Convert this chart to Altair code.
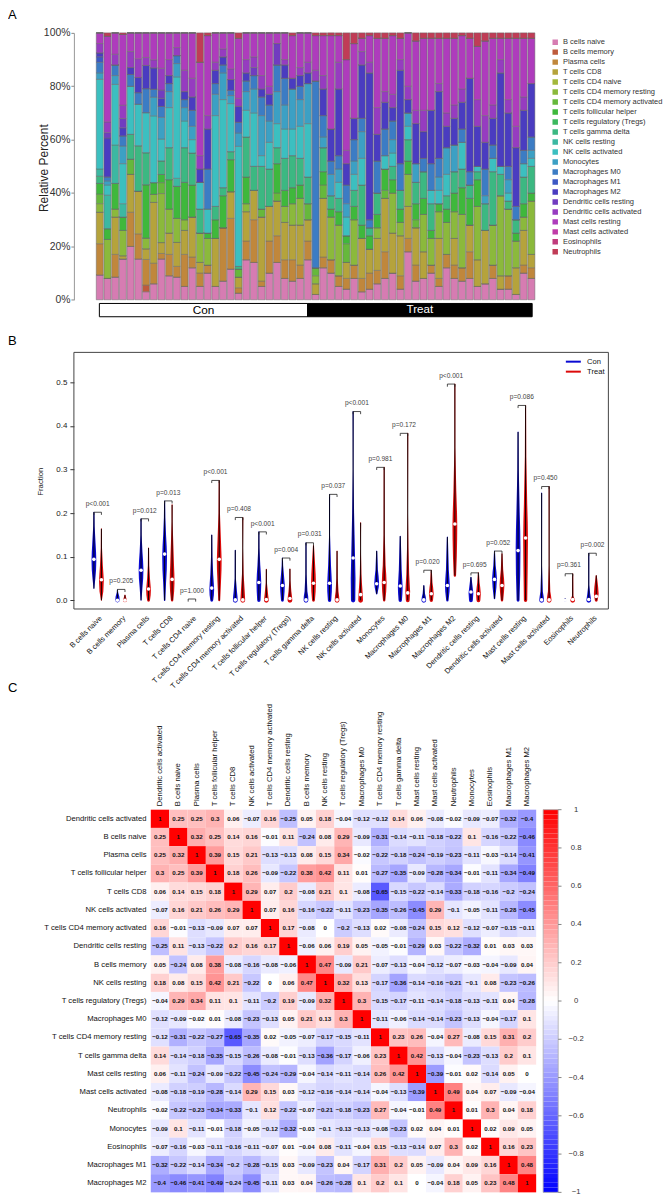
import json
import altair as alt
import numpy as np
import pandas as pd

FONT = "Liberation Sans"

# ---------------- shared names ----------------
CELL_TYPES = [
    "B cells naive", "B cells memory", "Plasma cells", "T cells CD8", "T cells CD4 naive",
    "T cells CD4 memory resting", "T cells CD4 memory activated", "T cells follicular helper",
    "T cells regulatory (Tregs)", "T cells gamma delta", "NK cells resting", "NK cells activated",
    "Monocytes", "Macrophages M0", "Macrophages M1", "Macrophages M2", "Dendritic cells resting",
    "Dendritic cells activated", "Mast cells resting", "Mast cells activated", "Eosinophils", "Neutrophils",
]
CELL_COLORS = [
    "#D67CB2", "#BE5B3C", "#C0873C", "#B5A33C", "#A3B83C", "#8BB93C", "#66B83C", "#3FB83C",
    "#3CB85E", "#3CB882", "#3CB8A2", "#3CBFC0", "#3CA0C4", "#3C7CC4", "#3C58C4", "#4A3CC0",
    "#713CC0", "#963CC0", "#AE3CBC", "#C03CA8", "#C03C7C", "#C03C56",
]

# ---------------- panel A: relative percent per sample ----------------
CON_SAMPLES = [
    [9.3, 0, 11.7, 11.8, 0, 3.2, 3.6, 4, 0, 2.7, 2.7, 33.6, 2.4, 4, 2, 1.5, 0, 3.5, 4, 0, 0, 0],
    [8, 0, 0, 0, 0, 14.5, 0, 4, 0, 0, 12.5, 3.8, 1.5, 1.5, 0, 14.5, 2, 4, 32, 0, 0, 1.2],
    [8.5, 0, 8.5, 14, 0, 3, 0, 9.6, 0, 0, 14.4, 22.7, 3.3, 4, 0, 0, 0, 4, 8, 0, 0, 0],
    [15.3, 0, 0, 1.2, 0, 9.5, 0, 5, 0, 0, 5, 15, 6.6, 3.8, 0, 3, 3.5, 5, 26.5, 0, 0, 0.6],
    [20, 0, 12.8, 14.2, 0, 0, 5.7, 0, 0, 9.3, 0, 18, 0, 4.4, 0, 2.6, 0, 6, 7, 0, 0, 0],
    [15.3, 0, 9.4, 16, 0, 0, 0, 0, 0, 17, 0, 15.6, 0, 4.3, 0, 5.7, 0, 7, 9.7, 0, 0, 0],
    [3, 2.5, 9.6, 4, 0, 4, 0, 20, 0, 12, 0, 15, 0, 9, 0, 8.7, 0, 3, 9.2, 0, 0, 0],
    [6, 0, 7.7, 22.8, 0, 3, 0, 4.4, 0, 0, 0, 25, 7, 3, 0, 8, 0, 3, 10.1, 0, 0, 0],
    [15, 0, 2, 4, 0, 18, 4, 3, 0, 5, 0, 8, 8, 4, 0, 3, 3, 8, 13, 0, 0, 0],
    [9, 0, 8, 8, 0, 9, 0, 11, 0, 12, 0, 15, 6, 3, 0, 3, 0, 6, 10, 0, 0, 0],
    [8.5, 0, 4, 9, 0, 9, 0, 12, 0, 0, 3, 38, 5, 3, 0, 0, 0, 3, 5.5, 0, 0, 0],
    [5, 0, 12, 9, 0, 4, 0, 14, 0, 13, 0, 10, 5, 3, 0, 3, 0, 8, 14, 0, 0, 0],
    [12, 0, 4, 15, 0, 0, 0, 12, 0, 12, 0, 5, 5, 6, 0, 5, 0, 7, 17, 0, 0, 0],
    [5, 0, 5, 4, 0, 11, 0, 0, 0, 9, 0, 10, 0, 0, 0, 5, 0, 5, 35, 0, 0, 11],
    [10, 0, 3, 0, 0, 10, 0, 2, 0, 0, 0, 9, 0, 15, 0, 15, 0, 5, 30, 0, 0, 1],
    [5, 0, 0, 18, 0, 0, 0, 7, 0, 5, 0, 34, 8, 4, 0, 5, 0, 3, 11, 0, 0, 0],
    [7, 0, 20, 0, 0, 0, 0, 12, 0, 3, 0, 33, 10, 3, 0, 3, 0, 3, 6, 0, 0, 0],
    [11.5, 0, 19, 10, 0, 0, 0, 12, 0, 3, 0, 18, 3, 2, 0, 4, 0, 4, 13.5, 0, 0, 0],
    [2.5, 0, 2, 4, 0, 0, 3, 0, 0, 1, 0, 45, 5, 4, 0, 6, 0, 3, 22.5, 0, 0, 2],
    [15, 0, 7, 11, 0, 3, 0, 10, 0, 15, 0, 10, 7, 4, 0, 3, 0, 5, 10, 0, 0, 0],
    [14, 0, 16, 11, 0, 0, 0, 0, 0, 9, 0, 20, 9, 5, 0, 0, 3, 4, 9, 0, 0, 0],
    [5, 0, 2, 24, 0, 0, 3, 0, 0, 16, 0, 4, 15, 7, 0, 3, 0, 5, 16, 0, 0, 0],
    [10, 0, 12, 13, 0, 0, 0, 0, 0, 14, 0, 10, 8, 6, 0, 4, 0, 3, 20, 0, 0, 0],
    [14, 0, 10, 13, 0, 0, 3, 11, 0, 6, 0, 9, 12, 10, 0, 0, 8, 0, 4, 0, 0, 0],
    [8, 0, 7, 14, 0, 6, 0, 6, 0, 12, 0, 11, 9, 10, 0, 5, 0, 2, 10, 0, 0, 0],
    [7, 0, 8, 13, 0, 8, 0, 6, 0, 12, 0, 10, 15, 0, 0, 4, 0, 0, 16, 0, 0, 1],
    [8, 0, 5, 15, 0, 10, 0, 5, 0, 10, 0, 12, 10, 5, 0, 4, 0, 3, 13, 0, 0, 0],
]
TREAT_SAMPLES = [
    [15, 0, 7, 8, 0, 0, 6, 0, 0, 10, 0, 20, 15, 0, 0, 4, 0, 4, 11, 0, 0, 0],
    [2, 0, 0, 4, 0, 3, 3, 0, 0, 0, 0, 0, 0, 70, 0, 0, 0, 4, 13, 0, 0, 1],
    [12, 0, 4, 22, 0, 0, 5, 5, 0, 9, 0, 0, 4, 8, 0, 10, 0, 5, 15, 0, 0, 1],
    [10, 0, 5, 0, 0, 16, 0, 3, 0, 5, 0, 0, 8, 5, 0, 12, 0, 0, 35, 0, 0, 1],
    [5, 0, 4, 0, 0, 19, 0, 5, 0, 5, 0, 6, 5, 5, 0, 25, 0, 10, 10, 0, 0, 1],
    [4, 0, 4, 6, 0, 0, 7, 3, 0, 0, 0, 7, 5, 7, 0, 8, 0, 5, 34, 0, 0, 10],
    [8, 0, 5, 0, 0, 17, 0, 5, 0, 6, 0, 6, 5, 8, 0, 8, 0, 0, 28, 0, 0, 4],
    [3, 0, 5, 15, 0, 0, 0, 5, 0, 15, 0, 10, 10, 5, 0, 20, 0, 5, 5, 0, 0, 2],
    [4, 0, 6, 9, 0, 0, 0, 5, 0, 3, 0, 0, 0, 3, 0, 55, 0, 4, 10, 0, 0, 1],
    [6, 0, 5, 12, 0, 4, 0, 5, 0, 8, 0, 0, 0, 12, 0, 10, 0, 10, 26, 0, 0, 2],
    [8, 0, 10, 20, 0, 0, 3, 8, 0, 0, 0, 5, 0, 10, 0, 10, 0, 4, 20, 0, 0, 2],
    [10, 0, 0, 15, 0, 15, 0, 5, 0, 5, 0, 5, 5, 7, 0, 5, 0, 5, 22, 0, 0, 1],
    [4, 0, 5, 15, 0, 5, 0, 5, 0, 7, 0, 0, 0, 10, 0, 35, 0, 4, 8, 0, 0, 2],
    [18, 0, 5, 12, 0, 12, 0, 5, 0, 8, 0, 5, 5, 0, 0, 5, 0, 5, 20, 0, 0, 0],
    [7, 0, 6, 14, 0, 0, 3, 6, 0, 8, 0, 0, 7, 0, 0, 15, 0, 5, 26, 0, 0, 3],
    [8, 0, 0, 10, 0, 14, 0, 6, 0, 10, 0, 0, 0, 5, 0, 10, 0, 8, 27, 0, 0, 2],
    [10, 0, 3, 0, 0, 10, 0, 3, 0, 10, 0, 5, 0, 10, 0, 20, 0, 0, 27, 0, 0, 2],
    [5, 0, 3, 15, 0, 10, 0, 3, 0, 0, 0, 5, 5, 7, 0, 25, 0, 3, 17, 0, 0, 2],
    [12, 0, 5, 0, 0, 12, 0, 5, 0, 5, 0, 8, 10, 0, 0, 8, 0, 5, 28, 0, 0, 2],
    [8, 0, 5, 10, 0, 10, 0, 7, 0, 8, 0, 0, 10, 0, 0, 10, 0, 5, 25, 0, 0, 2],
    [7, 0, 5, 0, 0, 20, 0, 10, 0, 7, 0, 10, 0, 5, 0, 10, 0, 5, 20, 0, 0, 1],
    [8, 0, 10, 10, 0, 0, 0, 10, 0, 5, 0, 0, 0, 5, 0, 35, 0, 0, 15, 0, 0, 2],
    [5, 0, 0, 10, 0, 20, 0, 10, 0, 3, 0, 2, 0, 0, 0, 15, 0, 10, 20, 0, 0, 5],
    [6, 0, 0, 20, 0, 0, 0, 0, 0, 10, 0, 0, 3, 10, 0, 10, 0, 10, 28, 0, 0, 3],
    [8, 0, 5, 0, 0, 15, 0, 0, 0, 20, 0, 5, 0, 5, 0, 10, 0, 5, 25, 0, 0, 2],
    [4, 0, 0, 5, 0, 30, 0, 0, 0, 8, 0, 3, 0, 0, 0, 35, 0, 5, 8, 0, 0, 2],
    [4, 0, 5, 0, 0, 25, 0, 0, 0, 3, 0, 3, 5, 5, 0, 20, 0, 5, 23, 0, 0, 2],
    [2, 0, 0, 10, 0, 10, 0, 3, 0, 5, 0, 0, 0, 5, 0, 22, 0, 8, 33, 0, 0, 2],
    [10, 0, 3, 13, 0, 5, 0, 5, 0, 10, 0, 5, 0, 5, 0, 15, 0, 5, 22, 0, 0, 2],
    [8, 0, 4, 5, 0, 20, 0, 3, 0, 10, 0, 3, 3, 5, 0, 20, 0, 0, 17, 0, 0, 2],
]
GROUPS = ["Con", "Treat"]

# ---------------- panel B: violin summaries ----------------
P_TEXT = ["p<0.001", "p=0.205", "p=0.012", "p=0.013", "p=1.000", "p<0.001", "p=0.408", "p<0.001",
          "p=0.004", "p=0.031", "p=0.037", "p<0.001", "p=0.981", "p=0.172", "p=0.020", "p<0.001",
          "p=0.695", "p=0.052", "p=0.086", "p=0.450", "p=0.361", "p=0.002"]
# (fraction, relative half width) outline knots of each violin
CON_PROFILES = [
    [(0.027, 0.15), (0.05, 0.6), (0.07, 0.9), (0.09, 1.0), (0.11, 0.9), (0.13, 0.7), (0.17, 0.3), (0.202, 0)],
    [(0.0, 0.9), (0.008, 0.8), (0.018, 0.3), (0.024, 0)],
    [(0.0, 0.2), (0.03, 0.6), (0.05, 0.9), (0.07, 1.0), (0.09, 0.85), (0.11, 0.6), (0.15, 0.25), (0.187, 0)],
    [(0.0, 0.3), (0.04, 0.6), (0.07, 0.9), (0.1, 1.0), (0.125, 0.85), (0.15, 0.6), (0.19, 0.3), (0.228, 0)],
    [],
    [(0.0, 0.6), (0.012, 0.9), (0.025, 1.0), (0.04, 0.85), (0.06, 0.6), (0.1, 0.3), (0.15, 0)],
    [(0.0, 1.0), (0.01, 0.9), (0.02, 0.7), (0.05, 0.25), (0.115, 0)],
    [(0.0, 0.7), (0.02, 0.9), (0.04, 1.0), (0.06, 0.85), (0.08, 0.6), (0.12, 0.25), (0.157, 0)],
    [(0.0, 0.6), (0.02, 0.9), (0.035, 1.0), (0.06, 0.6), (0.08, 0.3), (0.097, 0)],
    [(0.0, 1.0), (0.01, 0.9), (0.02, 0.6), (0.06, 0.25), (0.132, 0)],
    [(0.0, 0.7), (0.02, 0.95), (0.035, 1.0), (0.06, 0.8), (0.08, 0.6), (0.15, 0.2), (0.243, 0)],
    [(0.0, 0.9), (0.05, 1.0), (0.1, 0.8), (0.15, 0.6), (0.2, 0.4), (0.3, 0.15), (0.433, 0)],
    [(0.015, 0.3), (0.03, 0.85), (0.04, 1.0), (0.055, 0.8), (0.07, 0.5), (0.113, 0)],
    [(0.0, 0.7), (0.015, 0.9), (0.03, 1.0), (0.05, 0.8), (0.07, 0.6), (0.147, 0)],
    [(0.0, 1.0), (0.008, 0.8), (0.015, 0.5), (0.034, 0)],
    [(0.0, 0.5), (0.02, 0.9), (0.035, 1.0), (0.05, 0.85), (0.07, 0.6), (0.145, 0)],
    [(0.0, 0.8), (0.017, 1.0), (0.035, 0.6), (0.053, 0)],
    [(0.004, 0.3), (0.03, 0.8), (0.05, 1.0), (0.065, 0.8), (0.08, 0.5), (0.113, 0)],
    [(0.0, 0.6), (0.06, 0.9), (0.12, 1.0), (0.16, 0.9), (0.2, 0.7), (0.3, 0.3), (0.386, 0)],
    [(0.0, 1.0), (0.01, 0.8), (0.02, 0.5), (0.08, 0.15), (0.246, 0)],
    [(0.0, 0.5), (0.002, 0.3), (0.004, 0)],
    [(0.0, 1.0), (0.015, 0.6), (0.035, 0.2), (0.108, 0)],
]
TREAT_PROFILES = [
    [(0.0, 0.2), (0.02, 0.8), (0.045, 1.0), (0.06, 0.85), (0.08, 0.6), (0.12, 0.25), (0.164, 0)],
    [(0.0, 0.8), (0.006, 0.5), (0.012, 0)],
    [(0.0, 0.6), (0.012, 0.9), (0.025, 1.0), (0.05, 0.6), (0.08, 0.3), (0.12, 0)],
    [(0.0, 0.5), (0.02, 0.85), (0.04, 1.0), (0.06, 0.95), (0.08, 0.8), (0.13, 0.5), (0.18, 0.2), (0.219, 0)],
    [],
    [(0.0, 0.4), (0.05, 0.8), (0.07, 0.95), (0.09, 1.0), (0.11, 0.9), (0.14, 0.7), (0.2, 0.3), (0.275, 0)],
    [(0.0, 1.0), (0.02, 0.8), (0.06, 0.35), (0.12, 0.1), (0.19, 0)],
    [(0.0, 1.0), (0.015, 0.7), (0.04, 0.25), (0.071, 0)],
    [(0.0, 1.0), (0.01, 0.85), (0.02, 0.6), (0.045, 0.25), (0.072, 0)],
    [(0.0, 0.6), (0.02, 0.9), (0.04, 1.0), (0.06, 0.9), (0.08, 0.7), (0.126, 0)],
    [(0.0, 1.0), (0.01, 0.85), (0.02, 0.6), (0.05, 0.3), (0.113, 0)],
    [(0.0, 1.0), (0.02, 0.8), (0.04, 0.55), (0.06, 0.35), (0.12, 0.1), (0.178, 0)],
    [(0.0, 0.5), (0.02, 0.85), (0.04, 1.0), (0.06, 0.85), (0.08, 0.6), (0.15, 0.25), (0.305, 0)],
    [(0.0, 0.8), (0.02, 1.0), (0.04, 0.8), (0.06, 0.6), (0.12, 0.3), (0.2, 0.1), (0.383, 0)],
    [(0.0, 0.7), (0.015, 1.0), (0.03, 0.75), (0.04, 0.5), (0.069, 0)],
    [(0.057, 0.5), (0.1, 0.8), (0.14, 0.95), (0.17, 1.0), (0.2, 0.9), (0.25, 0.6), (0.35, 0.2), (0.496, 0)],
    [(0.0, 0.8), (0.015, 1.0), (0.03, 0.75), (0.04, 0.5), (0.063, 0)],
    [(0.0, 0.5), (0.02, 0.85), (0.035, 1.0), (0.05, 0.85), (0.07, 0.5), (0.107, 0)],
    [(0.0, 0.7), (0.08, 0.9), (0.14, 1.0), (0.18, 0.9), (0.22, 0.7), (0.33, 0.3), (0.447, 0)],
    [(0.0, 1.0), (0.01, 0.8), (0.02, 0.5), (0.08, 0.15), (0.261, 0)],
    [(0.0, 1.0), (0.01, 0.3), (0.061, 0)],
    [(0.0, 0.6), (0.015, 1.0), (0.03, 0.8), (0.04, 0.6), (0.057, 0)],
]
CON_MEDIANS = [0.094, 0.0, 0.069, 0.106, 0.0, 0.028, 0.001, 0.041, 0.034, 0.001, 0.039,
               0.097, 0.038, 0.033, 0.001, 0.034, 0.019, 0.048, 0.114, 0.001, 0.0, 0.002]
TREAT_MEDIANS = [0.047, 0.0, 0.026, 0.048, 0.0, 0.094, 0.001, 0.002, 0.004, 0.039, 0.001,
                 0.013, 0.041, 0.017, 0.015, 0.175, 0.015, 0.034, 0.143, 0.001, 0.002, 0.009]
BRACKET_Y = [0.202, 0.025, 0.187, 0.228, 0.003, 0.275, 0.19, 0.157, 0.097, 0.132, 0.243,
             0.433, 0.305, 0.383, 0.069, 0.496, 0.063, 0.113, 0.447, 0.261, 0.061, 0.108]
GROUP_COLORS = ["#0A0AD2", "#DC0A0A"]

# ---------------- panel C: correlation matrix ----------------
CORR_NAMES = [
    "Dendritic cells activated", "B cells naive", "Plasma cells", "T cells follicular helper",
    "T cells CD8", "NK cells activated", "T cells CD4 memory activated", "Dendritic cells resting",
    "B cells memory", "NK cells resting", "T cells regulatory (Tregs)", "Macrophages M0",
    "T cells CD4 memory resting", "T cells gamma delta", "Mast cells resting", "Mast cells activated",
    "Neutrophils", "Monocytes", "Eosinophils", "Macrophages M1", "Macrophages M2",
]
CORR = [
    [1, 0.25, 0.25, 0.3, 0.06, -0.07, 0.16, -0.25, 0.05, 0.18, -0.04, -0.12, -0.12, 0.14, 0.06, -0.08, -0.02, -0.09, -0.07, -0.32, -0.4],
    [0.25, 1, 0.32, 0.25, 0.14, 0.16, -0.01, 0.11, -0.24, 0.08, 0.29, -0.09, -0.31, -0.14, -0.11, -0.18, -0.22, 0.1, -0.16, -0.22, -0.46],
    [0.25, 0.32, 1, 0.39, 0.15, 0.21, -0.13, -0.13, 0.08, 0.15, 0.34, -0.02, -0.22, -0.18, -0.24, -0.19, -0.23, -0.11, -0.03, -0.14, -0.41],
    [0.3, 0.25, 0.39, 1, 0.18, 0.26, -0.09, -0.22, 0.38, 0.42, 0.11, 0.01, -0.27, -0.35, -0.09, -0.28, -0.34, -0.01, -0.11, -0.34, -0.49],
    [0.06, 0.14, 0.15, 0.18, 1, 0.29, 0.07, 0.2, -0.08, 0.21, 0.1, -0.08, -0.65, -0.15, -0.22, -0.14, -0.33, -0.18, -0.16, -0.2, -0.24],
    [-0.07, 0.16, 0.21, 0.26, 0.29, 1, 0.07, 0.16, -0.16, -0.22, -0.11, -0.23, -0.35, -0.26, -0.45, 0.29, -0.1, -0.05, -0.11, -0.28, -0.45],
    [0.16, -0.01, -0.13, -0.09, 0.07, 0.07, 1, 0.17, -0.08, 0, -0.2, -0.13, 0.02, -0.08, -0.24, 0.15, 0.12, -0.12, -0.07, -0.15, -0.11],
    [-0.25, 0.11, -0.13, -0.22, 0.2, 0.16, 0.17, 1, -0.06, 0.06, 0.19, 0.05, -0.05, -0.01, -0.29, 0.03, -0.22, -0.32, 0.01, 0.03, 0.03],
    [0.05, -0.24, 0.08, 0.38, -0.08, -0.16, -0.08, -0.06, 1, 0.47, -0.09, 0.21, -0.07, -0.13, -0.04, -0.12, -0.07, -0.03, -0.04, -0.09, 0.04],
    [0.18, 0.08, 0.15, 0.42, 0.21, -0.22, 0, 0.06, 0.47, 1, 0.32, 0.13, -0.17, -0.36, -0.14, -0.16, -0.21, -0.1, 0.08, -0.23, -0.26],
    [-0.04, 0.29, 0.34, 0.11, 0.1, -0.11, -0.2, 0.19, -0.09, 0.32, 1, 0.3, -0.15, -0.17, -0.11, -0.14, -0.18, -0.13, -0.11, 0.04, -0.28],
    [-0.12, -0.09, -0.02, 0.01, -0.08, -0.23, -0.13, 0.05, 0.21, 0.13, 0.3, 1, -0.11, -0.06, -0.14, -0.14, -0.23, -0.13, -0.04, -0.17, 0.1],
    [-0.12, -0.31, -0.22, -0.27, -0.65, -0.35, 0.02, -0.05, -0.07, -0.17, -0.15, -0.11, 1, 0.23, 0.26, -0.04, 0.27, -0.08, 0.15, 0.31, 0.2],
    [0.14, -0.14, -0.18, -0.35, -0.15, -0.26, -0.08, -0.01, -0.13, -0.36, -0.17, -0.06, 0.23, 1, 0.42, -0.13, -0.04, -0.23, -0.13, 0.2, 0.1],
    [0.06, -0.11, -0.24, -0.09, -0.22, -0.45, -0.24, -0.29, -0.04, -0.14, -0.11, -0.14, 0.26, 0.42, 1, -0.39, -0.01, 0.02, -0.14, 0.05, 0],
    [-0.08, -0.18, -0.19, -0.28, -0.14, 0.29, 0.15, 0.03, -0.12, -0.16, -0.14, -0.14, -0.04, -0.13, -0.39, 1, 0.49, 0.04, 0.07, -0.09, -0.04],
    [-0.02, -0.22, -0.23, -0.34, -0.33, -0.1, 0.12, -0.22, -0.07, -0.21, -0.18, -0.23, 0.27, -0.04, -0.01, 0.49, 1, 0.01, 0.3, 0.04, 0.18],
    [-0.09, 0.1, -0.11, -0.01, -0.18, -0.05, -0.12, -0.32, -0.03, -0.1, -0.13, -0.13, -0.08, -0.23, 0.02, 0.04, 0.01, 1, 0.02, 0.09, 0.05],
    [-0.07, -0.16, -0.03, -0.11, -0.16, -0.11, -0.07, 0.01, -0.04, 0.08, -0.11, -0.04, 0.15, -0.13, -0.14, 0.07, 0.3, 0.02, 1, 0.16, 0.23],
    [-0.32, -0.22, -0.14, -0.34, -0.2, -0.28, -0.15, 0.03, -0.09, -0.23, 0.04, -0.17, 0.31, 0.2, 0.05, -0.09, 0.04, 0.09, 0.16, 1, 0.48],
    [-0.4, -0.46, -0.41, -0.49, -0.24, -0.45, -0.11, 0.03, 0.04, -0.26, -0.28, 0.1, 0.2, 0.1, 0, -0.04, 0.18, 0.05, 0.23, 0.48, 1],
]
CBAR_TICKS = [1, 0.8, 0.6, 0.4, 0.2, 0, -0.2, -0.4, -0.6, -0.8, -1]


def one(**kw):
    return pd.DataFrame({k: [v] for k, v in kw.items()})


def spacer(x, y):
    return alt.Chart(one(a=0)).mark_rule(opacity=0, strokeWidth=0.1).encode(
        x=alt.value(x), x2=alt.value(x + 1), y=alt.value(y), y2=alt.value(y))


def label(txt, x, y, size=13, baseline="middle"):
    return alt.Chart(one(t=txt)).mark_text(
        fontSize=size, align="left", baseline=baseline, color="#000").encode(
        text="t:N", x=alt.value(x), y=alt.value(y))


# ======================= PANEL A =======================
A_W, A_H = 471, 267.3
A_STEP = 7.887
A_X0 = -(95.35 - 74) / A_STEP
A_X1 = A_X0 + A_W / A_STEP
xa = alt.Scale(domain=[A_X0, A_X1], nice=False, zero=False)

samples = CON_SAMPLES + TREAT_SAMPLES
n_con, n_all = len(CON_SAMPLES), len(samples)
rowsA = []
for k, vals in enumerate(samples):
    for ci, v in enumerate(vals):
        rowsA.append(dict(sample=k, ci=ci, cell=CELL_TYPES[ci], pct=v))
dfA = pd.DataFrame(rowsA)

barsA = alt.Chart(dfA).mark_bar(width=7.0, stroke="#6a6a6a", strokeWidth=0.5).encode(
    x=alt.X("sample:Q", scale=xa, axis=None),
    y=alt.Y("pct:Q", stack="normalize", scale=alt.Scale(domain=[0, 1], nice=False),
            axis=alt.Axis(values=[0, 0.2, 0.4, 0.6, 0.8, 1.0], format=".0%", labelFontSize=10.4,
                          labelColor="#333", tickSize=3, tickColor="#888", domainColor="#999",
                          grid=False, labelPadding=1, title="Relative Percent", titleFontSize=12,
                          titleFontWeight="normal", titleColor="#222", titleX=-30, titleY=135,
                          titleBaseline="middle")),
    color=alt.Color("cell:N", scale=alt.Scale(domain=CELL_TYPES, range=CELL_COLORS),
                    legend=alt.Legend(orient="none", legendX=478.3, legendY=4.3, title=None,
                                      symbolType="square", symbolSize=30, symbolStrokeWidth=0,
                                      labelFontSize=7.5, labelColor="#333", labelOffset=4,
                                      rowPadding=0, clipHeight=10, labelLimit=200)),
    order=alt.Order("ci:Q", sort="ascending"),
)

dfG = pd.DataFrame(dict(group=GROUPS, start=[-0.05, n_con - 0.03], end=[n_con - 0.03, n_all - 0.9],
                        mid=[(n_con - 0.08) / 2, (n_con + n_all - 0.93) / 2]))
boxCon = alt.Chart(dfG[dfG.group == "Con"]).mark_rect(fill="white", stroke="black", strokeWidth=1).encode(
    x=alt.X("start:Q", scale=xa), x2="end:Q", y=alt.value(A_H + 3.7), y2=alt.value(A_H + 17))
boxTreat = alt.Chart(dfG[dfG.group == "Treat"]).mark_rect(fill="black", stroke="black", strokeWidth=1).encode(
    x=alt.X("start:Q", scale=xa), x2="end:Q", y=alt.value(A_H + 3.7), y2=alt.value(A_H + 17))
txtCon = alt.Chart(dfG[dfG.group == "Con"]).mark_text(fontSize=11.8, color="black", baseline="middle").encode(
    x=alt.X("mid:Q", scale=xa), y=alt.value(A_H + 10.5), text="group:N")
txtTreat = alt.Chart(dfG[dfG.group == "Treat"]).mark_text(fontSize=11.6, color="white", baseline="middle").encode(
    x=alt.X("mid:Q", scale=xa), y=alt.value(A_H + 10.5), text="group:N")

chartA = alt.layer(
    barsA, boxCon, boxTreat, txtCon, txtTreat,
    label("A", -66, -23.7, baseline="top"),
    label("B", -66, 308.3),
    spacer(0, 318.3),
).properties(width=A_W, height=A_H)

# ======================= PANEL B =======================
B_W, B_H = 535.3, 257
B_STEP = 23.6
B_X0 = -23.8 / B_STEP
B_X1 = B_X0 + B_W / B_STEP
B_Y0, B_Y1 = -0.0199, 0.5687
xb = alt.Scale(domain=[B_X0, B_X1], nice=False, zero=False)
yb = alt.Scale(domain=[B_Y0, B_Y1], nice=False, zero=False)
HW_PX, OFF = 2.4, 0.159

vrows, wrows, mrows = [], [], []
for side, profs, meds, off in [("Con", CON_PROFILES, CON_MEDIANS, -OFF),
                               ("Treat", TREAT_PROFILES, TREAT_MEDIANS, OFF)]:
    for i, prof in enumerate(profs):
        for yv, w in prof:
            vrows.append(dict(vid=f"{side}{i}", side=side, y=yv, x=i + off, wpx=2 * w * HW_PX))
        if prof:
            wrows.append(dict(side=side, x=i + off, y=prof[0][0], yhi=prof[-1][0]))
            mrows.append(dict(side=side, x=i + off, y=meds[i]))
dfV, dfW, dfM = pd.DataFrame(vrows), pd.DataFrame(wrows), pd.DataFrame(mrows)

dfBr = pd.DataFrame(dict(xc=[i - OFF for i in range(22)], xt=[i + OFF for i in range(22)],
                         h=BRACKET_Y, hl=[h - 0.006 for h in BRACKET_Y],
                         ht=[h + 0.019 for h in BRACKET_Y], xm=list(range(22)), p=P_TEXT))

side_scale = alt.Scale(domain=GROUPS, range=GROUP_COLORS)
names_expr = json.dumps(CELL_TYPES) + "[datum.value]"

axisX = alt.Axis(values=list(range(22)), labelExpr=names_expr, labelAngle=-45,
                 labelFontSize=7.5, labelColor="#111", ticks=False, domain=False,
                 grid=False, labelPadding=5, title=None, labelLimit=300,
                 labelOverlap=False, labelBound=False)
axisY = alt.Axis(values=[0, 0.1, 0.2, 0.3, 0.4, 0.5], format=".1f", labelFontSize=8,
                 labelColor="#222", tickSize=4, tickColor="#333", domain=False, grid=False,
                 labelPadding=3, title="Fraction", titleFontSize=7.8, titleFontWeight="normal",
                 titleColor="#222", titleX=-33, titleY=129, titleBaseline="middle")


def bx(field):
    return alt.X(field, scale=xb, axis=axisX)


def by(field):
    return alt.Y(field, scale=yb, axis=axisY)


frameB = alt.Chart(one(a=0)).mark_rect(filled=False, stroke="#444", strokeWidth=1).encode(
    x=alt.value(0), x2=alt.value(B_W), y=alt.value(0), y2=alt.value(B_H))

violins = alt.Chart(dfV).mark_trail().encode(
    x=bx("x:Q"), y=by("y:Q"),
    size=alt.Size("wpx:Q", scale=None, legend=None),
    color=alt.Color("side:N", scale=side_scale, legend=None),
    detail="vid:N",
    order=alt.Order("y:Q"),
)
whisk = alt.Chart(dfW).mark_rule(color="black", strokeWidth=0.9).encode(
    x=bx("x:Q"), y=by("y:Q"), y2="yhi:Q")
meds = alt.Chart(dfM).mark_circle(color="white", size=13, opacity=1).encode(
    x=bx("x:Q"), y=by("y:Q"))
brH = alt.Chart(dfBr).mark_rule(color="#222", strokeWidth=0.8).encode(
    x=bx("xc:Q"), x2="xt:Q", y=by("h:Q"))
brL = alt.Chart(dfBr).mark_rule(color="#222", strokeWidth=0.8).encode(
    x=bx("xc:Q"), y=by("hl:Q"), y2="h:Q")
brR = alt.Chart(dfBr).mark_rule(color="#222", strokeWidth=0.8).encode(
    x=bx("xt:Q"), y=by("hl:Q"), y2="h:Q")
ptxt = alt.Chart(dfBr).mark_text(fontSize=6.6, color="#444", baseline="middle").encode(
    x=bx("xm:Q"), y=by("ht:Q"), text="p:N")

dfLeg = pd.DataFrame(dict(side=GROUPS, yy=[9.3, 19.3]))
legLines = alt.Chart(dfLeg).mark_rule(strokeWidth=2).encode(
    x=alt.value(492.7), x2=alt.value(507.7), y=alt.Y("yy:Q", scale=None),
    color=alt.Color("side:N", scale=side_scale, legend=None))
legText = alt.Chart(dfLeg).mark_text(fontSize=7.6, align="left", baseline="middle", color="#111").encode(
    x=alt.value(514), y=alt.Y("yy:Q", scale=None), text="side:N")

chartB = alt.layer(
    violins, whisk, meds, brH, brL, brR, ptxt, legLines, legText, frameB,
    label("C", -66, 336),
    spacer(0, 350.5),
).properties(width=B_W, height=B_H)

# ======================= PANEL C =======================
C_CELL_W, C_CELL_H = 18.38, 18.25
n = len(CORR_NAMES)
C_W = 526
C_H = C_CELL_H * n
C_X0 = -77 / C_CELL_W
C_X1 = C_X0 + C_W / C_CELL_W
xc = alt.Scale(domain=[C_X0, C_X1], nice=False, zero=False)
yc = alt.Scale(domain=[0, n], reverse=True, nice=False, zero=False)
ycb = alt.Scale(domain=[-1, 1], nice=False, zero=False)
cscale = alt.Scale(domain=[-1, 0, 1], range=["#0000FF", "#FFFFFF", "#FF0000"], interpolate="rgb")


def fmt(v):
    s = f"{v:g}"
    return s.replace("-", "\u2212")


crows = []
for i in range(n):
    for j in range(n):
        v = CORR[i][j]
        crows.append(dict(i=i, j=j, x0=j, x1=j + 1, y0=i, y1=i + 1, xm=j + 0.5, ym=i + 0.5, r=v, lab=fmt(v)))
dfC = pd.DataFrame(crows)
dfNames = pd.DataFrame(dict(name=CORR_NAMES, pos=[k + 0.5 for k in range(n)]))

cells = alt.Chart(dfC).mark_rect().encode(
    x=alt.X("x0:Q", scale=xc, axis=None), x2="x1:Q",
    y=alt.Y("y0:Q", scale=yc, axis=None), y2="y1:Q",
    color=alt.Color("r:Q", scale=cscale, legend=None))
ctext = alt.Chart(dfC).mark_text(fontSize=6.2, fontWeight="bold", color="#111", baseline="middle").encode(
    x=alt.X("xm:Q", scale=xc, axis=None), y=alt.Y("ym:Q", scale=yc, axis=None), text="lab:N")
rowlab = alt.Chart(dfNames).mark_text(fontSize=7.7, align="right", baseline="middle", color="#111").encode(
    x=alt.value(72.7), y=alt.Y("pos:Q", scale=yc, axis=None), text="name:N")
collab = alt.Chart(dfNames).mark_text(fontSize=7.7, angle=270, align="left", baseline="middle", color="#111").encode(
    x=alt.X("pos:Q", scale=xc, axis=None), y=alt.value(-3.5), text="name:N")

cb_lo = np.round(np.arange(-1.0, 1.0, 0.025), 4)
dfCB = pd.DataFrame(dict(lo=cb_lo, hi=cb_lo + 0.025, r=cb_lo + 0.0125, xl=21.38, xr=22.2))
cbar = alt.Chart(dfCB).mark_rect().encode(
    x=alt.X("xl:Q", scale=xc, axis=None), x2="xr:Q",
    y=alt.Y("lo:Q", scale=ycb, axis=None), y2="hi:Q",
    color=alt.Color("r:Q", scale=cscale, legend=None))
cbframe = alt.Chart(one(lo=-1.0, hi=1.0, xl=21.38, xr=22.2)).mark_rect(
    filled=False, stroke="#aaa", strokeWidth=0.8).encode(
    x=alt.X("xl:Q", scale=xc, axis=None), x2="xr:Q",
    y=alt.Y("lo:Q", scale=ycb, axis=None), y2="hi:Q")
dfT = pd.DataFrame(dict(v=CBAR_TICKS, lab=[fmt(v) for v in CBAR_TICKS], x0=22.2, x1=22.38, xt=23.18))
cbticks = alt.Chart(dfT).mark_rule(color="#666", strokeWidth=0.8).encode(
    x=alt.X("x0:Q", scale=xc, axis=None), x2="x1:Q", y=alt.Y("v:Q", scale=ycb, axis=None))
cblabs = alt.Chart(dfT).mark_text(fontSize=7.7, color="#333", baseline="middle").encode(
    x=alt.X("xt:Q", scale=xc, axis=None), y=alt.Y("v:Q", scale=ycb, axis=None), text="lab:N")

chartC = alt.layer(
    cells, ctext, rowlab, collab, cbar, cbframe, cbticks, cblabs, spacer(0, -105.5),
).resolve_scale(y="independent").properties(width=C_W, height=C_H)

chart = alt.vconcat(chartA, chartB, chartC, spacing=0).properties(padding=0).configure(
    font=FONT).configure_view(strokeWidth=0).configure_axis(labelFont=FONT, titleFont=FONT).configure_legend(
    labelFont=FONT)

chart.save("out.html", embed_options={"renderer": "svg", "actions": False})
